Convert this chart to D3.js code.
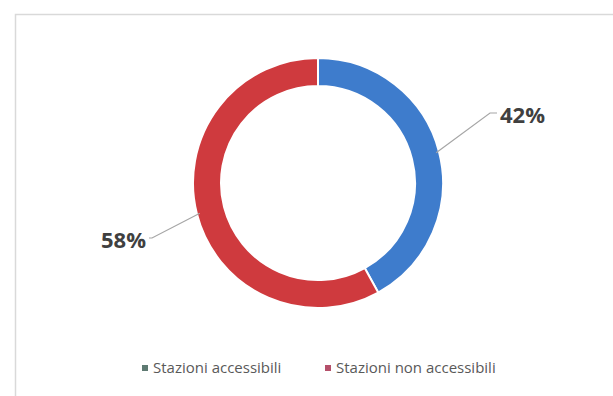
<!DOCTYPE html>
<html>
<head>
<meta charset="utf-8">
<script src="https://cdn.jsdelivr.net/npm/d3@7"></script>
<style>
  html, body { margin: 0; padding: 0; background: #fff; }
  svg { display: block; }
</style>
</head>
<body>
<svg id="chart" width="613" height="396"></svg>
<script>
// Share of stations by accessibility
const categories = ["Stazioni accessibili", "Stazioni non accessibili"];
const values = [42, 58];
const valueLabels = ["42%", "58%"];
const sliceColors = ["#3e7ccc", "#cf3a3e"];
const legendColors = ["#5e7a72", "#b5506a"];

const svg = d3.select("#chart");
const W = 613, H = 396;

// chart frame
svg.append("rect")
  .attr("x", 15.5).attr("y", 14.5)
  .attr("width", W).attr("height", H)
  .attr("fill", "#fff")
  .attr("stroke", "#d9d9d9").attr("stroke-width", 1.5);

const cx = 318, cy = 183;
const outerR = 125, innerR = 97;

const pie = d3.pie().sort(null).value(d => d)(values);
const arc = d3.arc().innerRadius(innerR).outerRadius(outerR);

const g = svg.append("g").attr("transform", `translate(${cx},${cy})`);

g.selectAll("path.slice")
  .data(pie)
  .join("path")
  .attr("class", "slice")
  .attr("d", arc)
  .attr("fill", (d, i) => sliceColors[i])
  .attr("stroke", "#fff")
  .attr("stroke-width", 2);

// leader lines start at each slice's middle on the outer edge
const labelSpec = [
  { end: [172, -70], tail: 7, side: 1 },
  { end: [-166, 55], tail: 3, side: -1 }
];

pie.forEach((d, i) => {
  const spec = labelSpec[i];
  const a = (d.startAngle + d.endAngle) / 2;
  const r0 = outerR - 3;
  const sx = Math.sin(a) * r0;
  const sy = -Math.cos(a) * r0;
  const [ex, ey] = spec.end;
  const tx = ex + spec.side * spec.tail;

  g.append("polyline")
    .attr("points", `${sx},${sy} ${ex},${ey} ${tx},${ey}`)
    .attr("fill", "none")
    .attr("stroke", "#a6a6a6")
    .attr("stroke-width", 1.2);

  g.append("text")
    .attr("x", tx + spec.side * 3)
    .attr("y", ey + 2)
    .attr("dy", "0.35em")
    .attr("text-anchor", spec.side > 0 ? "start" : "end")
    .attr("font-family", "'Open Sans', 'DejaVu Sans', sans-serif")
    .attr("font-weight", "bold")
    .attr("font-size", 22)
    .attr("fill", "#404040")
    .text(valueLabels[i]);
});

// legend
const legend = svg.append("g").attr("transform", "translate(0,368)");
const legendX = [142, 325];
categories.forEach((c, i) => {
  const item = legend.append("g").attr("transform", `translate(${legendX[i]},0)`);
  item.append("rect")
    .attr("x", 0).attr("y", -3).attr("width", 6).attr("height", 6)
    .attr("fill", legendColors[i]);
  item.append("text")
    .attr("x", 11).attr("y", 0).attr("dy", "0.35em")
    .attr("font-family", "'Liberation Sans Narrow', 'Open Sans', sans-serif")
    .attr("font-size", 15)
    .attr("fill", "#595959")
    .text(c);
});
</script>
</body>
</html>
